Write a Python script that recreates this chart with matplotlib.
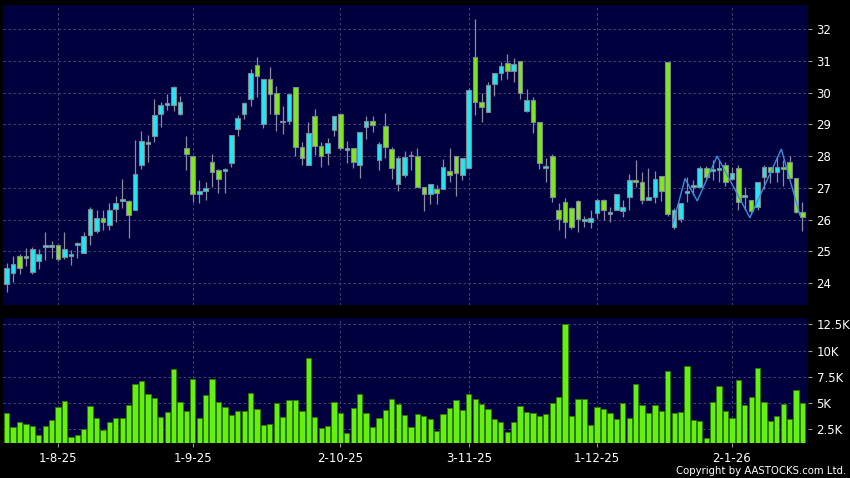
import numpy as np
import matplotlib
matplotlib.use("Agg")
import matplotlib.pyplot as plt
from matplotlib.ticker import FuncFormatter

# daily OHLC (22 Jul 2025 - mid Jan 2026)
opens = [23.98, 24.31, 24.84, 24.79, 24.35, 24.71, 25.13, 25.15, 25.19, 24.82,
         24.86, 25.20, 24.94, 25.52, 25.65, 26.05, 25.84, 26.33, 26.59, 26.60,
         26.31, 27.73, 28.38, 28.62, 29.33, 29.62, 29.62, 29.32, 28.25, 27.99,
         26.81, 26.91, 27.80, 27.55, 27.54, 27.78, 28.85, 29.32, 29.80, 30.87,
         29.00, 30.43, 29.98, 29.06, 29.11, 30.17, 28.28, 27.73, 29.27, 28.33,
         28.09, 28.83, 29.32, 28.20, 28.27, 27.73, 28.93, 29.12, 27.88, 28.96,
         28.22, 27.12, 27.41, 27.99, 28.01, 27.02, 26.81, 26.96, 26.96, 27.52,
         27.99, 27.41, 27.62, 31.12, 29.69, 29.39, 30.27, 30.61, 30.93, 30.69,
         31.01, 29.41, 29.77, 29.09, 27.62, 27.99, 26.29, 26.54, 26.36, 26.60,
         25.97, 25.91, 26.20, 26.62, 26.18, 26.29, 26.26, 26.71, 27.25, 27.17,
         26.62, 26.71, 27.36, 30.96, 25.78, 26.02, 26.83, 27.02, 27.02, 27.62,
         27.54, 27.55, 27.71, 27.28, 27.62, 26.71, 26.62, 26.41, 27.34, 27.65,
         27.50, 27.67, 27.81, 27.31, 26.24]
highs = [24.63, 24.84, 24.92, 25.10, 25.15, 25.07, 25.60, 25.34, 25.21, 25.60,
         25.05, 25.31, 25.60, 26.41, 26.29, 26.29, 26.52, 26.73, 27.29, 26.62,
         28.51, 28.78, 28.67, 29.81, 29.69, 29.95, 30.22, 29.88, 28.62, 27.99,
         27.25, 27.17, 28.07, 27.60, 27.62, 28.66, 29.30, 29.72, 30.74, 31.12,
         30.43, 30.80, 30.22, 29.59, 29.95, 30.17, 28.46, 29.09, 29.48, 28.46,
         28.57, 29.27, 29.32, 28.49, 28.27, 28.75, 29.27, 29.27, 28.46, 29.35,
         28.30, 27.99, 28.15, 28.15, 28.25, 27.02, 27.12, 27.10, 27.91, 28.25,
         27.99, 27.94, 30.14, 32.31, 29.98, 30.32, 30.61, 30.98, 31.22, 31.09,
         31.01, 30.11, 29.86, 29.09, 27.94, 28.07, 26.52, 26.68, 26.40, 26.62,
         26.12, 26.29, 26.65, 26.65, 26.39, 26.80, 26.62, 27.44, 27.88, 27.50,
         27.62, 27.52, 27.36, 30.96, 26.36, 26.52, 27.33, 27.25, 27.70, 27.70,
         27.88, 27.88, 27.83, 27.67, 27.73, 27.04, 26.62, 27.20, 27.73, 27.67,
         28.01, 27.88, 28.01, 27.31, 26.57]
lows = [23.71, 24.05, 24.29, 24.53, 24.29, 24.46, 24.73, 24.79, 24.71, 24.76,
        24.58, 24.79, 24.94, 25.21, 25.57, 25.68, 25.68, 25.94, 26.36, 25.42,
        26.31, 27.59, 27.83, 28.43, 28.93, 29.46, 29.41, 29.30, 27.57, 26.54,
        26.52, 26.62, 27.04, 26.83, 26.83, 27.67, 28.64, 29.18, 29.59, 29.86,
        28.88, 29.33, 28.78, 28.70, 29.02, 27.99, 27.73, 27.73, 28.04, 27.67,
        27.73, 28.62, 28.20, 27.78, 27.62, 27.31, 28.54, 28.75, 27.55, 27.94,
        27.29, 26.89, 27.34, 27.57, 27.04, 26.26, 26.50, 26.50, 26.96, 27.20,
        26.73, 27.25, 27.62, 29.30, 29.06, 29.39, 29.88, 30.40, 30.43, 30.35,
        29.80, 29.38, 28.72, 27.59, 27.17, 26.54, 25.68, 25.42, 25.70, 25.60,
        25.76, 25.73, 26.05, 26.00, 25.91, 26.29, 26.08, 26.29, 27.04, 26.50,
        26.62, 26.52, 26.60, 26.10, 25.71, 25.91, 26.57, 26.78, 27.02, 27.25,
        27.25, 27.20, 27.07, 27.25, 26.29, 26.31, 26.20, 26.29, 26.96, 27.15,
        27.20, 27.07, 27.31, 26.20, 25.63]
closes = [24.47, 24.60, 24.47, 24.79, 25.07, 24.91, 25.13, 25.15, 24.76, 25.07,
          24.86, 25.23, 25.47, 26.34, 26.05, 25.94, 26.29, 26.52, 26.59, 26.15,
          27.44, 28.49, 28.38, 29.30, 29.62, 29.62, 30.19, 29.69, 28.07, 26.81,
          26.89, 27.01, 27.50, 27.28, 27.54, 28.66, 29.20, 29.67, 30.61, 30.51,
          30.43, 29.95, 29.32, 29.06, 29.95, 28.28, 27.94, 28.72, 28.33, 28.01,
          28.41, 29.27, 28.25, 28.20, 27.83, 28.75, 29.12, 28.99, 28.38, 28.28,
          27.62, 27.94, 27.97, 27.99, 27.04, 26.81, 27.12, 26.83, 27.65, 27.41,
          27.46, 27.94, 30.09, 29.72, 29.54, 30.25, 30.61, 30.85, 30.69, 30.90,
          29.98, 29.77, 29.09, 27.78, 27.62, 26.71, 26.02, 25.91, 25.76, 26.02,
          25.97, 26.05, 26.62, 26.29, 26.18, 26.80, 26.39, 27.25, 27.17, 26.62,
          26.70, 27.28, 26.89, 26.18, 26.31, 26.52, 26.83, 27.02, 27.62, 27.34,
          27.54, 27.62, 27.20, 27.47, 26.57, 26.71, 26.26, 27.17, 27.65, 27.50,
          27.67, 27.59, 27.31, 26.24, 26.08]

# volume in thousands
volumes = [4.03, 2.72, 3.20, 3.01, 2.79, 1.92, 2.85, 3.36, 4.64, 5.22,
           1.73, 1.99, 2.53, 4.70, 3.55, 2.47, 3.23, 3.62, 3.59, 4.77,
           6.85, 7.07, 5.85, 5.47, 3.68, 4.19, 8.28, 5.06, 4.26, 7.32,
           3.59, 5.79, 7.27, 5.06, 4.58, 3.86, 4.26, 4.24, 5.92, 4.43,
           2.88, 2.99, 4.98, 3.65, 5.28, 5.28, 4.26, 9.27, 3.68, 2.62,
           2.82, 5.12, 4.02, 2.15, 4.54, 5.86, 4.07, 2.72, 3.62, 4.37,
           5.34, 4.90, 3.86, 2.69, 3.94, 3.80, 3.49, 2.37, 3.97, 4.52,
           5.29, 4.36, 5.90, 5.38, 4.87, 4.46, 3.49, 3.20, 2.28, 3.20,
           4.71, 4.13, 4.01, 3.81, 3.94, 5.03, 5.58, 12.53, 3.78, 5.42,
           5.42, 2.95, 4.65, 4.46, 4.10, 3.49, 4.97, 3.56, 6.79, 4.84,
           4.07, 4.81, 4.26, 8.01, 4.07, 4.17, 8.56, 3.43, 3.30, 1.67,
           5.10, 6.63, 4.26, 3.59, 7.24, 4.84, 5.58, 8.33, 5.10, 3.30,
           3.78, 4.90, 3.49, 6.25, 5.00]

# thin blue overlay line (bar position, price)
line_x = [103.8, 105.7, 107.6, 110.7, 115.8, 120.7, 123.6]
line_y = [25.87, 27.29, 26.59, 28.00, 26.06, 28.22, 26.14]

date_pos = [8, 29, 52, 72, 92, 113]
date_labels = ["1-8-25", "1-9-25", "2-10-25", "3-11-25", "1-12-25", "2-1-26"]
price_ticks = [24, 25, 26, 27, 28, 29, 30, 31, 32]
vol_ticks = [2.5, 5, 7.5, 10, 12.5]

UP = "#24e6f2"
DOWN = "#7fe81c"
PANEL = "#00003f"
GRID = "#505078"

fig = plt.figure(figsize=(8.5, 4.78), dpi=100, facecolor="black")
ax = fig.add_axes([0.0041, 0.3619, 0.9468, 0.6276], facecolor=PANEL)
axv = fig.add_axes([0.0041, 0.0726, 0.9468, 0.2615], facecolor=PANEL, sharex=ax)

o = np.array(opens)
h = np.array(highs)
l = np.array(lows)
c = np.array(closes)
x = np.arange(len(o))

cols = [UP if cc >= oo else DOWN for oo, cc in zip(o, c)]
ax.vlines(x, l, h, color="#8c8c9c", lw=0.9, zorder=2)
body = np.maximum(np.abs(c - o), 0.06)
ax.bar(x, body, bottom=np.minimum(o, c), width=0.72, color=cols,
       edgecolor="#7d8890", linewidth=0.8, zorder=3)
ax.plot(line_x, line_y, color="#3a8fe0", lw=1, zorder=4)

axv.bar(x, volumes, width=0.82, color="#66f010", edgecolor="#2e7a00",
        linewidth=0.7, zorder=3)

for a in (ax, axv):
    a.grid(True, color=GRID, lw=0.6, linestyle=(0, (3, 3)))
    a.set_axisbelow(True)
    for s in a.spines.values():
        s.set_visible(False)
    a.yaxis.tick_right()
    a.tick_params(axis="y", colors="#9a9a9a", labelcolor="white", length=3,
                  width=0.8, pad=3, labelsize=8.5)

ax.set_xlim(-0.5, 124.9)
ax.set_ylim(23.31, 32.76)
ax.set_yticks(price_ticks)
ax.tick_params(axis="x", bottom=False, labelbottom=False)

axv.set_ylim(1.17, 13.07)
axv.set_yticks(vol_ticks)
axv.yaxis.set_major_formatter(FuncFormatter(lambda v, p: f"{v:g}K"))
axv.set_xticks(date_pos)
axv.set_xticklabels(date_labels)
axv.tick_params(axis="x", colors="#9a9a9a", labelcolor="white", length=3,
                width=0.8, pad=3, labelsize=8.5)

fig.text(0.996, 0.004, "Copyright by AASTOCKS.com Ltd.", color="white",
         fontsize=7.3, ha="right", va="bottom")

fig.savefig("out.png", dpi=100, facecolor="black")
